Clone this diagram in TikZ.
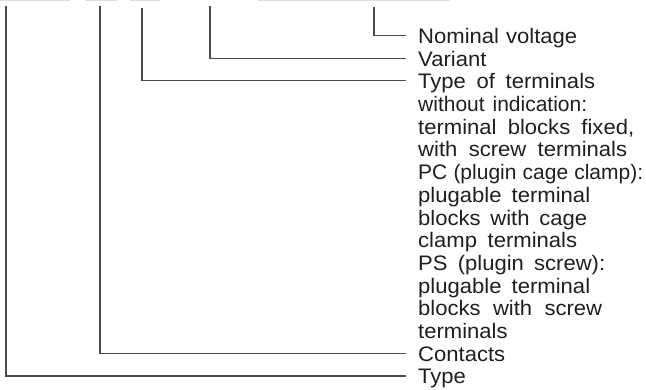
\documentclass[tikz,border=0pt]{standalone}
\usepackage{fontspec}
\setmainfont[FakeStretch=1.05]{Liberation Sans}
\newfontfamily\plainsans{Liberation Sans}
\newcommand\jline[2]{\makebox[#1pt][s]{#2}}
\begin{document}
\begin{tikzpicture}[x=1pt,y=-1pt,
  lbl/.style={anchor=base west, inner sep=0pt, font=\fontsize{21}{23}\selectfont, text=black!88},
  conn/.style={line width=1.2pt, draw=black!70},
  topbar/.style={fill=black!12, draw=none},
  hit/.style={xshift=-12pt, yshift=8pt}]
\useasboundingbox (0,0) rectangle (646,390);
% faint bars at the top edge
\fill[topbar] (0,0) rectangle (70,1.5);
\fill[topbar] (85,0) rectangle (117,1.5);
\fill[topbar] (130,0) rectangle (160,1.5);
\fill[topbar] (258,0) rectangle (450,1.5);
% labels
\node[lbl] (nv)  at (418,43.5)  {\jline{159}{Nominal voltage}};
\node[lbl] (var) at (418,66.2)  {Variant};
\node[lbl] (tt)  at (418,88.9)  {\jline{177}{Type of terminals}};
\node[lbl] (t3)  at (418,111.6) {\plainsans\jline{169}{without indication:}};
\node[lbl] (t4)  at (418,134.3) {\jline{216}{terminal blocks fixed,}};
\node[lbl] (t5)  at (418,157.0) {\jline{209}{with screw terminals}};
\node[lbl] (t6)  at (418,179.7) {\plainsans\jline{225}{PC (plugin cage clamp):}};
\node[lbl] (t7)  at (418,202.4) {\jline{172}{plugable terminal}};
\node[lbl] (t8)  at (418,225.1) {\jline{169}{blocks with cage}};
\node[lbl] (t9)  at (418,247.8) {\jline{159}{clamp terminals}};
\node[lbl] (t10) at (418,270.5) {\jline{187}{PS (plugin screw):}};
\node[lbl] (t11) at (418,293.2) {\jline{172}{plugable terminal}};
\node[lbl] (t12) at (418,315.9) {\jline{184}{blocks with screw}};
\node[lbl] (t13) at (418,338.6) {terminals};
\node[lbl] (con) at (418,361.3) {Contacts};
\node[lbl] (typ) at (418,384.0) {Type};
% tops of the leader lines
\coordinate (a) at (6,6);
\coordinate (b) at (100,6);
\coordinate (c) at (142,8);
\coordinate (d) at (210,6);
\coordinate (e) at (374,7);
% connectors
\draw[conn] (e) |- ([hit]nv.base west);
\draw[conn] (d) |- ([hit]var.base west);
\draw[conn] (c) |- ([hit]tt.base west);
\draw[conn] (b) |- ([hit]con.base west);
\draw[conn] (a) |- ([hit]typ.base west);
\end{tikzpicture}
\end{document}
